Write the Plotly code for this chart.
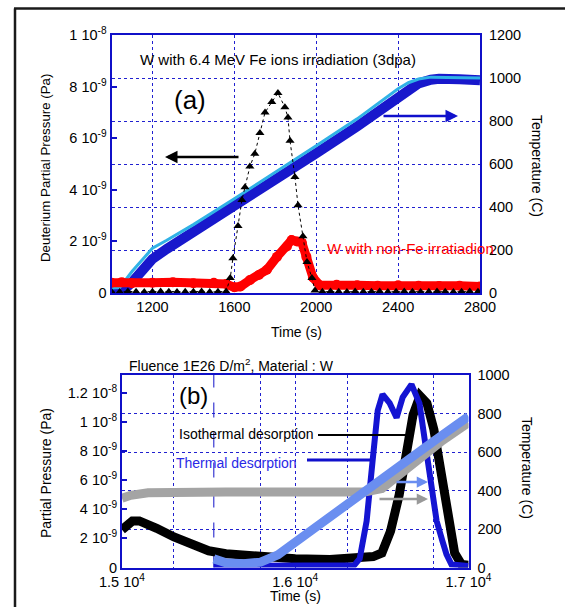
import plotly.graph_objects as go

W, H = 565, 607


def px(x):
    return x / W


def py(y):
    return 1 - y / H


# ---------------- Panel (a) data ----------------
# temperature (C) : light-blue line and dark-blue band
temp_a_time = [1000, 1040, 1100, 1200, 1270, 1400, 1600, 1800, 2000, 2200, 2400, 2450, 2500, 2560, 2700, 2800]
temp_a_light = [23, 25, 100, 208, 245, 318, 438, 560, 685, 810, 950, 978, 995, 1004, 1003, 1000]
temp_a_dark_time = [1000, 1060, 1100, 1200, 1270, 1400, 1600, 1800, 2000, 2200, 2400, 2450, 2500, 2560, 2600, 2700, 2800]
temp_a_dark = [12, 14, 50, 158, 205, 282, 402, 524, 650, 775, 915, 948, 975, 992, 996, 994, 990]

# deuterium partial pressure, in units of 1e-9 Pa
fe_time = [1000, 1040, 1080, 1120, 1160, 1200, 1240, 1280, 1320, 1360, 1400, 1440, 1480, 1520, 1560,
           1580, 1593, 1618, 1637, 1652, 1676, 1700, 1725, 1750, 1783, 1813, 1847, 1862, 1872, 1896,
           1911, 1935, 1955, 1979, 1994, 2030, 2070, 2110, 2150, 2190, 2230, 2270, 2310, 2350, 2390,
           2430, 2470, 2510, 2550, 2590, 2630, 2670, 2710, 2750, 2790]
fe_pressure = [0.05, 0.04, 0.06, 0.05, 0.04, 0.05, 0.06, 0.05, 0.04, 0.05, 0.05, 0.06, 0.04, 0.05, 0.06,
               0.58, 1.35, 2.6, 3.6, 4.1, 4.9, 5.4, 6.2, 7.0, 7.4, 7.75, 7.2, 6.8, 5.9, 4.5,
               3.4, 2.2, 1.2, 0.58, 0.1, 0.05, 0.06, 0.05, 0.04, 0.06, 0.05, 0.05, 0.06, 0.04, 0.05,
               0.06, 0.05, 0.04, 0.05, 0.06, 0.05, 0.04, 0.05, 0.06, 0.05]
nofe_time = [1000, 1050, 1100, 1200, 1300, 1400, 1500, 1560, 1600, 1630, 1676, 1720, 1759, 1808, 1857,
             1880, 1906, 1930, 1952, 1984, 2017, 2100, 2200, 2300, 2400, 2500, 2600, 2700, 2800]
nofe_pressure = [0.40, 0.42, 0.38, 0.40, 0.42, 0.38, 0.40, 0.35, 0.22, 0.25, 0.50, 0.70, 0.90, 1.40, 1.80,
                 2.05, 2.00, 1.95, 1.40, 0.60, 0.30, 0.32, 0.30, 0.28, 0.30, 0.28, 0.27, 0.28, 0.25]

# ---------------- Panel (b) data ----------------
iso_time = [15000, 15030, 15060, 15100, 15150, 15200, 15300, 15400, 15500, 15600, 15800, 16000, 16200,
            16350, 16450, 16500, 16550, 16600, 16640, 16680, 16720, 16760, 16800, 16840, 16880, 16920,
            16960, 17000]
iso_pressure = [2.6, 3.0, 3.2, 3.2, 3.0, 2.7, 2.1, 1.6, 1.15, 0.95, 0.75, 0.6, 0.55,
                0.6, 0.75, 1.0, 2.5, 5.0, 8.0, 10.5, 11.8, 11.3, 9.5, 6.5, 3.2, 1.0,
                0.2, 0.15]
th_time = [15530, 15600, 15800, 16000, 16200, 16340, 16372, 16412, 16447, 16476, 16504, 16545, 16585,
           16620, 16671, 16717, 16758, 16793, 16816, 16850, 16873, 16902, 16950, 17000]
th_pressure = [0.1, 0.1, 0.08, 0.08, 0.1, 0.15, 0.6, 3.2, 7.4, 10.8, 11.9, 11.3, 10.3,
               11.7, 12.6, 11.3, 7.9, 4.8, 3.2, 1.8, 0.9, 0.2, 0.1, 0.1]
iso_temp_time = [15000, 15050, 15150, 15300, 15600, 16000, 16400, 16500, 16700, 16850, 17000]
iso_temp = [360, 375, 388, 392, 392, 392, 392, 410, 555, 660, 752]
th_temp_time = [15530, 15600, 15700, 15800, 15900, 16000, 16200, 16400, 16600, 16800, 17000]
th_temp = [45, 25, 20, 28, 66, 130, 262, 393, 525, 657, 785]
thermal_start = 15530

# ---------------- tick definitions ----------------
a_time_ticks = [1200, 1600, 2000, 2400, 2800]
a_p_ticks = [0, 2, 4, 6, 8, 10]
a_p_labels = ["0", "2 10<sup>-9</sup>", "4 10<sup>-9</sup>", "6 10<sup>-9</sup>",
              "8 10<sup>-9</sup>", "1 10<sup>-8</sup>"]
a_t_ticks = [0, 200, 400, 600, 800, 1000, 1200]
b_time_ticks = [15000, 15300, 15800, 16000, 16300, 16800, 17000]
b_time_labels = ["1.5 10<sup>4</sup>", "", "", "1.6 10<sup>4</sup>", "", "", "1.7 10<sup>4</sup>"]
b_p_ticks = [0, 2, 4, 6, 8, 10, 12]
b_p_labels = ["0", "2 10<sup>-9</sup>", "4 10<sup>-9</sup>", "6 10<sup>-9</sup>",
              "8 10<sup>-9</sup>", "1 10<sup>-8</sup>", "1.2 10<sup>-8</sup>"]
b_t_ticks = [0, 200, 400, 600, 800, 1000]

FONT = "Liberation Sans, Arial, sans-serif"
FRAME = "#1010c8"
GRID = "#2020d0"
DARKBLUE = "#1818cc"
LIGHTBLUE = "#30b2e6"
CORNFLOWER = "#6a8ef0"
GRAY = "#a4a4a4"

fig = go.Figure()

# Panel (a): temperature on primary y (right side), pressure overlaid on y2 (left side)
fig.add_trace(go.Scatter(x=temp_a_dark_time, y=temp_a_dark, xaxis="x", yaxis="y", mode="lines",
                         line=dict(color=DARKBLUE, width=10), hoverinfo="skip"))
fig.add_trace(go.Scatter(x=temp_a_time, y=temp_a_light, xaxis="x", yaxis="y", mode="lines",
                         line=dict(color=LIGHTBLUE, width=3), hoverinfo="skip"))
fig.add_trace(go.Scatter(x=nofe_time, y=nofe_pressure, xaxis="x", yaxis="y2", mode="lines+markers",
                         line=dict(color="#ff0000", width=9),
                         marker=dict(color="#ff0000", size=10, symbol="circle"), hoverinfo="skip"))
fig.add_trace(go.Scatter(x=fe_time, y=fe_pressure, xaxis="x", yaxis="y2", mode="lines+markers",
                         line=dict(color="black", width=1, dash="dot"),
                         marker=dict(color="black", size=8, symbol="triangle-up"), hoverinfo="skip"))

# Panel (b): pressure on y3 (left), temperature overlaid on y4 (right)
fig.add_trace(go.Scatter(x=iso_time, y=iso_pressure, xaxis="x3", yaxis="y3", mode="lines",
                         line=dict(color="black", width=9), hoverinfo="skip"))
fig.add_trace(go.Scatter(x=th_time, y=th_pressure, xaxis="x3", yaxis="y3", mode="lines",
                         line=dict(color="#1414d2", width=6), hoverinfo="skip"))
fig.add_trace(go.Scatter(x=iso_temp_time, y=iso_temp, xaxis="x3", yaxis="y4", mode="lines",
                         line=dict(color=GRAY, width=9), hoverinfo="skip"))
fig.add_trace(go.Scatter(x=th_temp_time, y=th_temp, xaxis="x3", yaxis="y4", mode="lines",
                         line=dict(color=CORNFLOWER, width=9), hoverinfo="skip"))

tickfont = dict(family=FONT, size=14.5, color="black")
common_line = dict(showline=True, linecolor=FRAME, linewidth=2, zeroline=False, automargin=False)
grid = dict(showgrid=True, gridcolor=GRID, griddash="dot", gridwidth=1)

ya_dom = [py(293), py(35)]
yb_dom = [py(567.5), py(375)]

fig.update_layout(
    width=W, height=H, autosize=False,
    margin=dict(l=0, r=0, t=0, b=0, pad=0, autoexpand=False),
    paper_bgcolor="white", plot_bgcolor="white",
    showlegend=False,
    font=dict(family=FONT, size=13, color="black"),
    xaxis=dict(domain=[px(111.5), px(480)], anchor="y", range=[1000, 2800],
               tickmode="array", tickvals=a_time_ticks, ticks="", tickfont=tickfont,
               mirror=True, **common_line, **grid),
    yaxis=dict(domain=ya_dom, anchor="x", side="right", range=[0, 1200],
               tickmode="array", tickvals=a_t_ticks, ticks="", tickfont=tickfont,
               ticklabelstandoff=4, **common_line, **grid),
    yaxis2=dict(overlaying="y", anchor="x", side="left", range=[0, 10],
                tickmode="array", tickvals=a_p_ticks, ticktext=a_p_labels,
                ticks="inside", ticklen=5, tickcolor=FRAME, tickwidth=1.5, tickfont=tickfont,
                showgrid=False, **common_line),
    xaxis3=dict(domain=[px(122), px(468.5)], anchor="y3", range=[15000, 17000],
                tickmode="array", tickvals=b_time_ticks, ticktext=b_time_labels, ticks="",
                tickfont=tickfont, mirror=True, **common_line, **grid),
    yaxis3=dict(domain=yb_dom, anchor="x3", side="left", range=[0, 13.24],
                tickmode="array", tickvals=b_p_ticks, ticktext=b_p_labels,
                ticks="inside", ticklen=5, tickcolor=FRAME, tickwidth=1.5, tickfont=tickfont,
                showgrid=False, **common_line),
    yaxis4=dict(overlaying="y3", anchor="x3", side="right", range=[0, 1000],
                tickmode="array", tickvals=b_t_ticks, ticks="", tickfont=tickfont,
                ticklabelstandoff=4, **common_line, **grid),
)

shapes = [
    # outer frame (left and top edges; the rest lies outside the picture)
    dict(type="line", xref="paper", yref="paper", x0=px(15), x1=px(15), y0=0, y1=py(8.5),
         line=dict(color="#1a1a1a", width=2.5), layer="above"),
    dict(type="line", xref="paper", yref="paper", x0=px(14), x1=1, y0=py(8.5), y1=py(8.5),
         line=dict(color="#1a1a1a", width=2.5), layer="above"),
    # thermal desorption start marker (b)
    dict(type="line", xref="x3", yref="paper", x0=thermal_start, x1=thermal_start,
         y0=yb_dom[0], y1=yb_dom[1], line=dict(color=FRAME, width=1, dash="longdash"), layer="below"),
    # legend leader lines (b)
    dict(type="line", xref="paper", yref="paper", x0=px(318), x1=px(407), y0=py(435), y1=py(435),
         line=dict(color="black", width=2)),
    dict(type="line", xref="paper", yref="paper", x0=px(307), x1=px(370), y0=py(460), y1=py(460),
         line=dict(color="#1010cc", width=3)),
]
fig.update_layout(shapes=shapes)

ann = []


def text(x, y, s, size=13, color="black", angle=0, xanchor="center"):
    ann.append(dict(x=px(x), y=py(y), xref="paper", yref="paper", text=s, showarrow=False,
                    font=dict(family=FONT, size=size, color=color), textangle=angle,
                    xanchor=xanchor, yanchor="middle"))


def arrow(x_tail, x_head, y, color, width=2.5, size=1.0):
    ann.append(dict(x=px(x_head), y=py(y), xref="paper", yref="paper", text="",
                    showarrow=True, ax=x_tail - x_head, ay=0, axref="pixel", ayref="pixel",
                    arrowhead=2, arrowsize=size, arrowwidth=width, arrowcolor=color, standoff=0))


# Panel (a) texts
text(278, 59, "W with 6.4 MeV Fe ions irradiation (3dpa)", 15)
text(190, 100, "(a)", 26)
text(410, 248, "W with non-Fe irratiadion", 15, "#ff0000")
text(46, 168, "Deuterium Partial Pressure (Pa)", 13.3, angle=-90)
text(537, 166, "Temperature (C)", 14, angle=90)
text(296, 332, "Time (s)", 14)
arrow(240, 165, 157, "black")
arrow(382, 458, 116, "#1010cc")

# Panel (b) texts
text(231, 365, "Fluence 1E26 D/m<sup>2</sup>, Material : W", 14)
text(193, 396, "(b)", 24)
text(177, 434, "Isothermal desorption", 14, xanchor="left")
text(174, 463, "Thermal desorption", 14, "#2a2ae6", xanchor="left")
text(46, 473, "Partial Pressure (Pa)", 14, angle=-90)
text(527, 468, "Temperature (C)", 14, angle=90)
text(295, 596, "Time (s)", 14)
arrow(395, 428, 482, CORNFLOWER, width=2.5, size=0.9)
arrow(378, 428, 499, "#999999", width=2.5, size=0.9)

fig.update_layout(annotations=ann)

fig.write_html("out.html", config={"displayModeBar": False},
               post_script="document.body.style.margin='0';document.body.style.padding='0';")
